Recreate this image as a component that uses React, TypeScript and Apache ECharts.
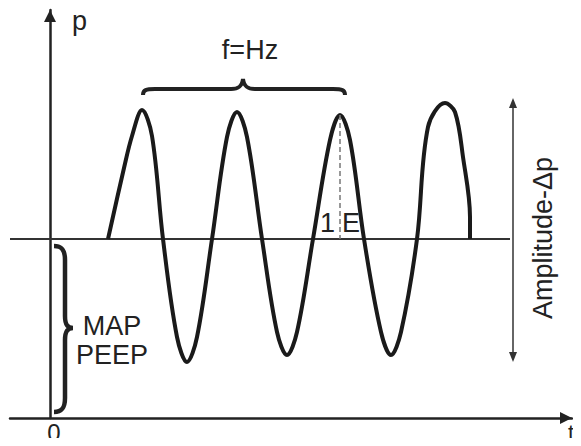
import React, { useEffect, useRef } from "react";
import * as echarts from "echarts";

// Time positions (t, arbitrary units) and pressure values (p, arbitrary units) of the oscillation
const waveT = [58, 74, 82, 92, 102, 113, 127, 137, 147, 162, 177, 187, 197, 212, 227, 237, 247, 263, 280, 290, 300, 314, 331, 341, 351, 367, 378, 395, 405, 413, 420, 420];
const waveP = [179, 250, 282, 308, 282, 179, 81, 56, 81, 179, 281, 306, 281, 179, 86, 63, 86, 179, 278, 303, 278, 179, 86, 63, 86, 179, 291, 315, 306, 261, 201, 179];

// MAP / PEEP level and extent of the level line
const mapLevel = 179;
const mapLineT = [-40, 460];
// Amplitude arrow
const ampT = 463;
const ampRange = [315, 61];
// 1 E marker (peak of third cycle)
const markerT = 290;
const markerRange = [303, 179];

const FONT = "Liberation Sans, Arial, Helvetica, sans-serif";
const INK = "#222";

echarts.graphic.registerShape(
  "hbrace",
  echarts.graphic.extendPath(
    "M0 16 C0 11 3 10 12 10 L88 10 C95 10 99 8 100 0 C101 8 105 10 112 10 L190 10 C199 10 202 11 202 16",
    {}
  )
);
echarts.graphic.registerShape(
  "vbrace",
  echarts.graphic.extendPath(
    "M0 0 C8 0 11 4 11 14 L11 70 C11 78 13 82 19 82 C13 82 11 86 11 94 L11 152 C11 162 8 166 0 166",
    {}
  )
);

export default function App() {
  const ref = useRef<HTMLDivElement>(null);
  useEffect(() => {
    if (!ref.current) return;
    const chart = echarts.init(ref.current, null, { renderer: "svg" });
    const textStyle = (extra: any) => ({
      fill: INK,
      fontFamily: FONT,
      fontSize: 27,
      ...extra,
    });
    chart.setOption({
      animation: false,
      backgroundColor: "#fff",
      grid: { left: 10, right: 9, top: 10, bottom: 28 },
      xAxis: {
        type: "value",
        min: -40,
        max: 522,
        axisLine: {
          show: true,
          onZero: true,
          symbol: ["none", "triangle"],
          symbolSize: [12, 12],
          symbolOffset: [0, -6],
          lineStyle: { color: INK, width: 2.5 },
        },
        axisTick: { show: false },
        axisLabel: { show: false },
        splitLine: { show: false },
      },
      yAxis: {
        type: "value",
        min: 0,
        max: 408,
        axisLine: {
          show: true,
          onZero: true,
          symbol: ["none", "triangle"],
          symbolSize: [12, 12],
          symbolOffset: [0, -6],
          lineStyle: { color: INK, width: 2.5 },
        },
        axisTick: { show: false },
        axisLabel: { show: false },
        splitLine: { show: false },
      },
      series: [
        {
          type: "line",
          data: mapLineT.map((t) => [t, mapLevel]),
          symbol: "none",
          lineStyle: { color: "#333", width: 1.8 },
          z: 1,
          markLine: {
            silent: true,
            symbol: ["none", "none"],
            label: { show: false },
            lineStyle: { color: "#777", width: 1.5, type: [5, 3] },
            data: [
              [
                { coord: [markerT, markerRange[0]] },
                { coord: [markerT, markerRange[1]] },
              ],
            ],
          },
        },
        {
          type: "line",
          data: waveT.map((t, i) => [t, waveP[i]]),
          symbol: "none",
          smooth: 0.35,
          lineStyle: { color: "#1a1a1a", width: 4 },
          z: 3,
        },
        {
          type: "line",
          data: [],
          markLine: {
            silent: true,
            symbol: ["triangle", "triangle"],
            symbolSize: [8, 10],
            label: { show: false },
            lineStyle: { color: "#333", width: 1.5, type: "solid" },
            data: [
              [
                { coord: [ampT, ampRange[0]] },
                { coord: [ampT, ampRange[1]] },
              ],
            ],
          },
        },
      ],
      graphic: [
        {
          type: "hbrace",
          x: 143,
          y: 79,
          style: { stroke: INK, lineWidth: 4, fill: null },
        },
        {
          type: "vbrace",
          x: 54,
          y: 246,
          style: { stroke: INK, lineWidth: 4.5, fill: null },
        },
        {
          type: "text",
          x: 250,
          y: 63,
          style: textStyle({ text: "f=Hz", align: "center", verticalAlign: "bottom" }),
        },
        {
          type: "text",
          x: 72,
          y: 34,
          style: textStyle({ text: "p", align: "left", verticalAlign: "bottom" }),
        },
        {
          type: "text",
          x: 54,
          y: 432,
          style: textStyle({ text: "0", fontSize: 24, align: "center", verticalAlign: "middle" }),
        },
        {
          type: "text",
          x: 568,
          y: 432,
          style: textStyle({ text: "t", fontSize: 22, align: "left", verticalAlign: "middle" }),
        },
        {
          type: "text",
          x: 335,
          y: 223,
          style: textStyle({ text: "1", align: "right", verticalAlign: "middle" }),
        },
        {
          type: "text",
          x: 342,
          y: 223,
          style: textStyle({ text: "E", align: "left", verticalAlign: "middle" }),
        },
        {
          type: "text",
          x: 112,
          y: 326,
          style: textStyle({ text: "MAP", align: "center", verticalAlign: "middle" }),
        },
        {
          type: "text",
          x: 112,
          y: 355,
          style: textStyle({ text: "PEEP", align: "center", verticalAlign: "middle" }),
        },
        {
          type: "text",
          x: 543,
          y: 238,
          rotation: Math.PI / 2,
          style: textStyle({ text: "Amplitude-Δp", align: "center", verticalAlign: "middle" }),
        },
      ],
    });
    return () => chart.dispose();
  }, []);
  return <div ref={ref} style={{ width: 581, height: 446, margin: -8 }} />;
}
